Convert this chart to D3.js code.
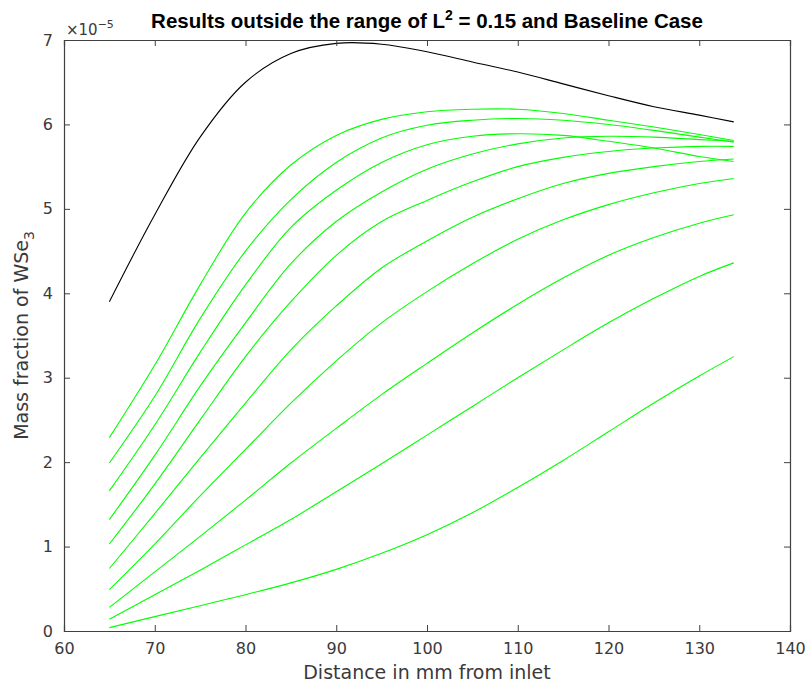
<!DOCTYPE html>
<html>
  <head>
    <meta charset="utf-8" />
    <title>Mass fraction of WSe3</title>
    <script src="https://d3js.org/d3.v7.min.js"></script>
    <style>
      body { margin: 0; background: #fff; }
      text { font-family: "DejaVu Sans", sans-serif; }
    </style>
  </head>
  <body>
    <svg id="chart"></svg>
    <script>
      // distance from inlet (mm), shared by every curve
      var distance = [65, 70, 75, 80, 85, 90, 95, 100, 105, 110, 115, 120, 125, 130, 133.8];

      // baseline case (black), values in units of 1e-5
      var baseline = [3.90, 4.93, 5.85, 6.50, 6.84, 6.96, 6.95, 6.86, 6.74, 6.62, 6.48, 6.34, 6.21, 6.11, 6.03];

      // results outside the L^2 = 0.15 range (green)
      var run1  = [2.29, 3.15, 4.10, 4.95, 5.52, 5.87, 6.06, 6.15, 6.18, 6.18, 6.13, 6.05, 5.97, 5.88, 5.81];
      var run2  = [1.99, 2.78, 3.70, 4.50, 5.11, 5.55, 5.84, 5.99, 6.05, 6.07, 6.05, 6.00, 5.93, 5.85, 5.79];
      var run3  = [1.66, 2.44, 3.30, 4.10, 4.78, 5.22, 5.55, 5.76, 5.86, 5.89, 5.87, 5.80, 5.72, 5.62, 5.56];
      var run4  = [1.32, 2.08, 2.90, 3.65, 4.35, 4.85, 5.20, 5.47, 5.65, 5.77, 5.84, 5.86, 5.85, 5.82, 5.80];
      var run5  = [1.03, 1.74, 2.50, 3.25, 3.90, 4.45, 4.85, 5.10, 5.32, 5.50, 5.61, 5.68, 5.72, 5.74, 5.74];
      var run6  = [0.74, 1.39, 2.05, 2.70, 3.33, 3.85, 4.30, 4.62, 4.90, 5.12, 5.30, 5.42, 5.50, 5.56, 5.59];
      var run7  = [0.49, 1.03, 1.60, 2.15, 2.70, 3.20, 3.65, 4.02, 4.35, 4.64, 4.87, 5.05, 5.19, 5.30, 5.36];
      var run8  = [0.28, 0.70, 1.12, 1.55, 1.99, 2.40, 2.80, 3.17, 3.53, 3.87, 4.18, 4.45, 4.66, 4.83, 4.93];
      var run9  = [0.14, 0.43, 0.72, 1.02, 1.32, 1.65, 1.98, 2.32, 2.66, 3.00, 3.33, 3.65, 3.94, 4.20, 4.36];
      var run10 = [0.04, 0.17, 0.30, 0.43, 0.57, 0.73, 0.92, 1.14, 1.40, 1.70, 2.02, 2.36, 2.70, 3.02, 3.25];

      var greenRuns = [run1, run2, run3, run4, run5, run6, run7, run8, run9, run10];

      var xTicks = [60, 70, 80, 90, 100, 110, 120, 130, 140];
      var yTicks = [0, 1, 2, 3, 4, 5, 6, 7];

      var width = 807, height = 683;
      var margin = {top: 40, right: 17, bottom: 52, left: 64};
      var plotW = width - margin.left - margin.right;
      var plotH = height - margin.top - margin.bottom;

      var svg = d3.select("#chart")
        .attr("width", width)
        .attr("height", height);

      var x = d3.scaleLinear().domain([60, 140]).range([margin.left, margin.left + plotW]);
      var y = d3.scaleLinear().domain([0, 7]).range([margin.top + plotH, margin.top]);

      var line = d3.line()
        .x(function(d) { return x(d[0]); })
        .y(function(d) { return y(d[1]); })
        .curve(d3.curveCatmullRom.alpha(0.5));

      function pairs(vals) {
        return distance.map(function(dd, i) { return [dd, vals[i]]; });
      }

      // green curves
      svg.append("g").selectAll("path")
        .data(greenRuns)
        .enter().append("path")
        .attr("d", function(d) { return line(pairs(d)); })
        .attr("fill", "none")
        .attr("stroke", "#00ff00")
        .attr("stroke-width", 1.1);

      // baseline
      svg.append("path")
        .attr("d", line(pairs(baseline)))
        .attr("fill", "none")
        .attr("stroke", "#000")
        .attr("stroke-width", 1.1);

      // axes, MATLAB style (ticks inside, box on)
      var axisColor = "#404040";
      var tickLen = 6;

      var xAxis = svg.append("g")
        .attr("transform", "translate(0," + (margin.top + plotH) + ")")
        .call(d3.axisBottom(x).tickValues(xTicks).tickSize(-tickLen).tickPadding(12));
      var xAxisTop = svg.append("g")
        .attr("transform", "translate(0," + margin.top + ")")
        .call(d3.axisTop(x).tickValues(xTicks).tickSize(-tickLen).tickFormat(""));
      var yAxis = svg.append("g")
        .attr("transform", "translate(" + margin.left + ",0)")
        .call(d3.axisLeft(y).tickValues(yTicks).tickSize(-tickLen).tickPadding(11).tickFormat(d3.format("d")));
      var yAxisRight = svg.append("g")
        .attr("transform", "translate(" + (margin.left + plotW) + ",0)")
        .call(d3.axisRight(y).tickValues(yTicks).tickSize(-tickLen).tickFormat(""));

      [xAxis, xAxisTop, yAxis, yAxisRight].forEach(function(a) {
        a.select(".domain").attr("stroke", axisColor).attr("stroke-width", 1.2);
        a.selectAll(".tick line").attr("stroke", axisColor);
        a.selectAll(".tick text")
          .attr("fill", "#3a3a3a")
          .style("font-size", "16px")
          .style("font-family", "'DejaVu Sans', sans-serif");
      });

      // exponent label
      var ex = svg.append("text")
        .attr("x", margin.left + 2)
        .attr("y", margin.top - 5)
        .attr("fill", "#3a3a3a")
        .style("font-size", "15px");
      ex.append("tspan").text("\u00d710");
      ex.append("tspan").attr("dy", -7).style("font-size", "11px").text("\u22125");

      // title
      var title = svg.append("text")
        .attr("x", margin.left + plotW / 2)
        .attr("y", 28)
        .attr("text-anchor", "middle")
        .attr("fill", "#000")
        .style("font-family", "'Liberation Sans', Arial, sans-serif")
        .style("font-size", "20.5px")
        .style("font-weight", "bold");
      title.append("tspan").text("Results outside the range of L");
      title.append("tspan").attr("dy", -8).style("font-size", "14px").text("2");
      title.append("tspan").attr("dy", 8).text(" = 0.15 and Baseline Case");

      // x label
      svg.append("text")
        .attr("x", margin.left + plotW / 2)
        .attr("y", 679)
        .attr("text-anchor", "middle")
        .attr("fill", "#3a3a3a")
        .style("font-size", "19px")
        .text("Distance in mm from inlet");

      // y label
      var yl = svg.append("text")
        .attr("transform", "translate(28," + (margin.top + plotH / 2) + ") rotate(-90)")
        .attr("text-anchor", "middle")
        .attr("fill", "#3a3a3a")
        .style("font-size", "19px");
      yl.append("tspan").text("Mass fraction of WSe");
      yl.append("tspan").attr("dy", 6).style("font-size", "14px").text("3");
    </script>
  </body>
</html>
